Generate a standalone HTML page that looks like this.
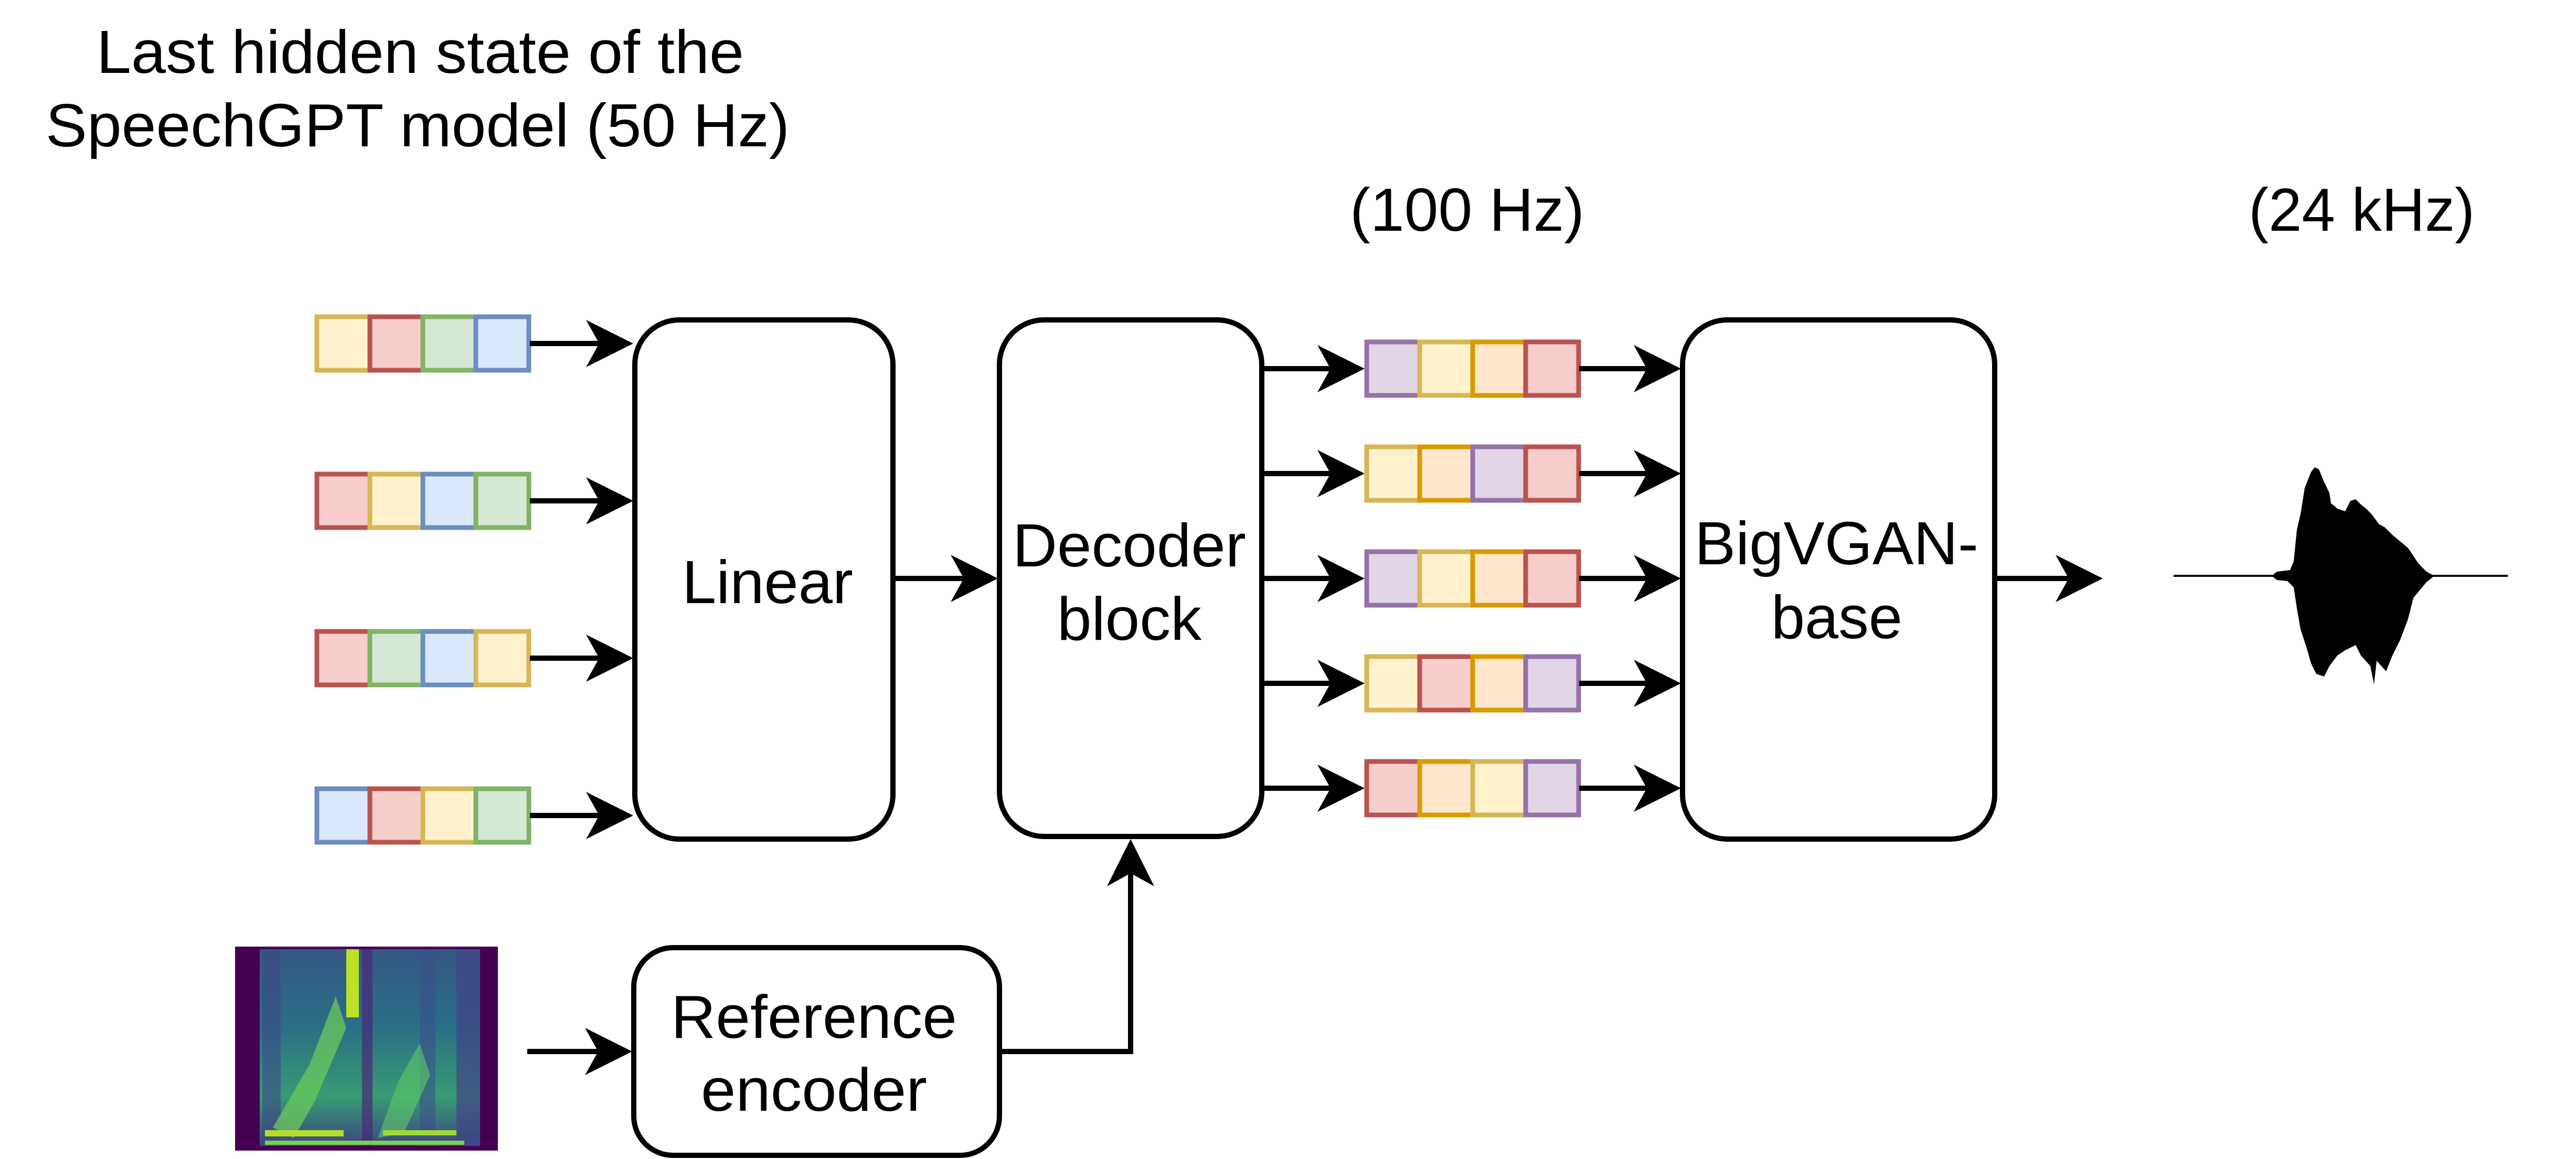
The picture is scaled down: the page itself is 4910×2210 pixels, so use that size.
<!DOCTYPE html>
<html><head><meta charset="utf-8"><style>
html,body{margin:0;padding:0;background:#fff;}
svg{display:block;}
text{font-family:"Liberation Sans",Arial,sans-serif;fill:#000;}
</style></head><body>
<svg width="4910" height="2210" viewBox="0 0 4910 2210" xmlns="http://www.w3.org/2000/svg">
<defs>
<linearGradient id="sg" x1="0" y1="0" x2="0" y2="1">
<stop offset="0" stop-color="#31688e"/><stop offset="0.4" stop-color="#26828e"/><stop offset="0.75" stop-color="#35b779"/><stop offset="1" stop-color="#3b528b"/>
</linearGradient>
</defs>
<rect width="4910" height="2210" fill="#fff"/>

<!-- Titles -->
<text x="184" y="139" font-size="116" textLength="1234" lengthAdjust="spacingAndGlyphs">Last hidden state of the</text>
<text x="87" y="279" font-size="116" textLength="1418" lengthAdjust="spacingAndGlyphs">SpeechGPT model (50 Hz)</text>
<text x="2573" y="440" font-size="116" textLength="447" lengthAdjust="spacingAndGlyphs">(100 Hz)</text>
<text x="4286" y="440" font-size="116" textLength="431" lengthAdjust="spacingAndGlyphs">(24 kHz)</text>

<g stroke-width="9" stroke-linejoin="miter">
<!-- input bars (x 600..1010) -->
<g transform="translate(0,600)">
<rect x="604" y="4" width="101" height="102" fill="#fff2cc" stroke="#d6b656"/>
<rect x="705" y="4" width="101" height="102" fill="#f8cecc" stroke="#b85450"/>
<rect x="806" y="4" width="101" height="102" fill="#d5e8d4" stroke="#82b366"/>
<rect x="907" y="4" width="101" height="102" fill="#dae8fc" stroke="#6c8ebf"/>
</g>
<g transform="translate(0,900)">
<rect x="604" y="4" width="101" height="102" fill="#f8cecc" stroke="#b85450"/>
<rect x="705" y="4" width="101" height="102" fill="#fff2cc" stroke="#d6b656"/>
<rect x="806" y="4" width="101" height="102" fill="#dae8fc" stroke="#6c8ebf"/>
<rect x="907" y="4" width="101" height="102" fill="#d5e8d4" stroke="#82b366"/>
</g>
<g transform="translate(0,1200)">
<rect x="604" y="4" width="101" height="102" fill="#f8cecc" stroke="#b85450"/>
<rect x="705" y="4" width="101" height="102" fill="#d5e8d4" stroke="#82b366"/>
<rect x="806" y="4" width="101" height="102" fill="#dae8fc" stroke="#6c8ebf"/>
<rect x="907" y="4" width="101" height="102" fill="#fff2cc" stroke="#d6b656"/>
</g>
<g transform="translate(0,1500)">
<rect x="604" y="4" width="101" height="102" fill="#dae8fc" stroke="#6c8ebf"/>
<rect x="705" y="4" width="101" height="102" fill="#f8cecc" stroke="#b85450"/>
<rect x="806" y="4" width="101" height="102" fill="#fff2cc" stroke="#d6b656"/>
<rect x="907" y="4" width="101" height="102" fill="#d5e8d4" stroke="#82b366"/>
</g>

<!-- output bars (x 2601..3010) -->
<g transform="translate(0,652)">
<rect x="2605" y="0" width="101" height="102" fill="#e1d5e7" stroke="#9673a6"/>
<rect x="2706" y="0" width="101" height="102" fill="#fff2cc" stroke="#d6b656"/>
<rect x="2807" y="0" width="101" height="102" fill="#ffe6cc" stroke="#d79b00"/>
<rect x="2908" y="0" width="101" height="102" fill="#f8cecc" stroke="#b85450"/>
</g>
<g transform="translate(0,852)">
<rect x="2605" y="0" width="101" height="102" fill="#fff2cc" stroke="#d6b656"/>
<rect x="2706" y="0" width="101" height="102" fill="#ffe6cc" stroke="#d79b00"/>
<rect x="2807" y="0" width="101" height="102" fill="#e1d5e7" stroke="#9673a6"/>
<rect x="2908" y="0" width="101" height="102" fill="#f8cecc" stroke="#b85450"/>
</g>
<g transform="translate(0,1052)">
<rect x="2605" y="0" width="101" height="102" fill="#e1d5e7" stroke="#9673a6"/>
<rect x="2706" y="0" width="101" height="102" fill="#fff2cc" stroke="#d6b656"/>
<rect x="2807" y="0" width="101" height="102" fill="#ffe6cc" stroke="#d79b00"/>
<rect x="2908" y="0" width="101" height="102" fill="#f8cecc" stroke="#b85450"/>
</g>
<g transform="translate(0,1252)">
<rect x="2605" y="0" width="101" height="102" fill="#fff2cc" stroke="#d6b656"/>
<rect x="2706" y="0" width="101" height="102" fill="#f8cecc" stroke="#b85450"/>
<rect x="2807" y="0" width="101" height="102" fill="#ffe6cc" stroke="#d79b00"/>
<rect x="2908" y="0" width="101" height="102" fill="#e1d5e7" stroke="#9673a6"/>
</g>
<g transform="translate(0,1452)">
<rect x="2605" y="0" width="101" height="102" fill="#f8cecc" stroke="#b85450"/>
<rect x="2706" y="0" width="101" height="102" fill="#ffe6cc" stroke="#d79b00"/>
<rect x="2807" y="0" width="101" height="102" fill="#fff2cc" stroke="#d6b656"/>
<rect x="2908" y="0" width="101" height="102" fill="#e1d5e7" stroke="#9673a6"/>
</g>
</g>

<!-- Boxes -->
<g fill="#fff" stroke="#000" stroke-width="10">
<rect x="1210" y="610" width="492" height="990" rx="85" ry="85"/>
<rect x="1905" y="610" width="500" height="985" rx="85" ry="85"/>
<rect x="3207" y="610" width="595" height="990" rx="85" ry="85"/>
<rect x="1208" y="1807" width="697" height="396" rx="75" ry="75"/>
</g>

<!-- Box labels -->
<text x="1300" y="1150" font-size="116" textLength="326" lengthAdjust="spacingAndGlyphs">Linear</text>
<text x="1930" y="1080" font-size="116" textLength="445" lengthAdjust="spacingAndGlyphs">Decoder</text>
<text x="2015" y="1220" font-size="116" textLength="275" lengthAdjust="spacingAndGlyphs">block</text>
<text x="3230" y="1076" font-size="116" textLength="541" lengthAdjust="spacingAndGlyphs">BigVGAN-</text>
<text x="3376" y="1217" font-size="116" textLength="250" lengthAdjust="spacingAndGlyphs">base</text>
<text x="1279" y="1979" font-size="116" textLength="545" lengthAdjust="spacingAndGlyphs">Reference</text>
<text x="1336" y="2118" font-size="116" textLength="431" lengthAdjust="spacingAndGlyphs">encoder</text>

<!-- Connector lines -->
<g stroke="#000" stroke-width="10" fill="none">
<line x1="1010" y1="655" x2="1150" y2="655"/>
<line x1="1010" y1="955" x2="1150" y2="955"/>
<line x1="1010" y1="1255" x2="1150" y2="1255"/>
<line x1="1010" y1="1555" x2="1150" y2="1555"/>
<line x1="1705" y1="1103" x2="1845" y2="1103"/>
<line x1="2405" y1="703" x2="2545" y2="703"/>
<line x1="2405" y1="903" x2="2545" y2="903"/>
<line x1="2405" y1="1103" x2="2545" y2="1103"/>
<line x1="2405" y1="1303" x2="2545" y2="1303"/>
<line x1="2405" y1="1503" x2="2545" y2="1503"/>
<line x1="3010" y1="703" x2="3145" y2="703"/>
<line x1="3010" y1="903" x2="3145" y2="903"/>
<line x1="3010" y1="1103" x2="3145" y2="1103"/>
<line x1="3010" y1="1303" x2="3145" y2="1303"/>
<line x1="3010" y1="1503" x2="3145" y2="1503"/>
<line x1="3805" y1="1103" x2="3950" y2="1103"/>
<line x1="1005" y1="2005" x2="1150" y2="2005"/>
<polyline points="1905,2005 2155,2005 2155,1660"/>
</g>

<!-- Arrowheads -->
<g fill="#000">
<path d="M0,0 L-90,-45 L-65,0 L-90,45 Z" transform="translate(1207,655)"/>
<path d="M0,0 L-90,-45 L-65,0 L-90,45 Z" transform="translate(1207,955)"/>
<path d="M0,0 L-90,-45 L-65,0 L-90,45 Z" transform="translate(1207,1255)"/>
<path d="M0,0 L-90,-45 L-65,0 L-90,45 Z" transform="translate(1207,1555)"/>
<path d="M0,0 L-90,-45 L-65,0 L-90,45 Z" transform="translate(1902,1103)"/>
<path d="M0,0 L-90,-45 L-65,0 L-90,45 Z" transform="translate(2601,703)"/>
<path d="M0,0 L-90,-45 L-65,0 L-90,45 Z" transform="translate(2601,903)"/>
<path d="M0,0 L-90,-45 L-65,0 L-90,45 Z" transform="translate(2601,1103)"/>
<path d="M0,0 L-90,-45 L-65,0 L-90,45 Z" transform="translate(2601,1303)"/>
<path d="M0,0 L-90,-45 L-65,0 L-90,45 Z" transform="translate(2601,1503)"/>
<path d="M0,0 L-90,-45 L-65,0 L-90,45 Z" transform="translate(3204,703)"/>
<path d="M0,0 L-90,-45 L-65,0 L-90,45 Z" transform="translate(3204,903)"/>
<path d="M0,0 L-90,-45 L-65,0 L-90,45 Z" transform="translate(3204,1103)"/>
<path d="M0,0 L-90,-45 L-65,0 L-90,45 Z" transform="translate(3204,1303)"/>
<path d="M0,0 L-90,-45 L-65,0 L-90,45 Z" transform="translate(3204,1503)"/>
<path d="M0,0 L-90,-45 L-65,0 L-90,45 Z" transform="translate(4008,1103)"/>
<path d="M0,0 L-90,-45 L-65,0 L-90,45 Z" transform="translate(1205,2005)"/>
<path d="M0,0 L-90,-45 L-65,0 L-90,45 Z" transform="translate(2155,1600) rotate(-90)"/>
</g>

<!-- Spectrogram -->
<g>
<rect x="448" y="1805" width="501" height="389" fill="#440154"/>
<rect x="495" y="1810" width="420" height="375" fill="url(#sg)" opacity="0.85"/>
<rect x="500" y="1810" width="35" height="375" fill="#3e4a89" opacity="0.6"/>
<rect x="660" y="1810" width="24" height="130" fill="#bddf26"/>
<rect x="690" y="1810" width="20" height="375" fill="#482878" opacity="0.7"/>
<rect x="800" y="1810" width="30" height="375" fill="#3b528b" opacity="0.6"/>
<rect x="870" y="1810" width="45" height="375" fill="#414487" opacity="0.7"/>
<path d="M520,2150 L590,2030 L640,1900 L660,1960 L600,2100 L560,2170 Z" fill="#6ece58" opacity="0.7"/>
<path d="M720,2170 L760,2060 L800,1990 L820,2050 L770,2160 Z" fill="#5ec962" opacity="0.6"/>
<rect x="505" y="2155" width="150" height="12" fill="#b5de2b"/>
<rect x="730" y="2155" width="140" height="10" fill="#a0da39"/>
<rect x="505" y="2175" width="380" height="8" fill="#7ad151"/>
</g>

<!-- Waveform -->
<line x1="4143" y1="1098" x2="4780" y2="1098" stroke="#000" stroke-width="4"/>
<path fill="#000" d="M4330,1098 L4340,1090 L4365,1087 L4372,1070 L4378,1010 L4385,980 L4393,930 L4405,900 L4412,891 L4420,895 L4428,915 L4440,940 L4443,960 L4450,965 L4455,970 L4470,975 L4480,955 L4490,952 L4500,962 L4510,970 L4520,980 L4535,1000 L4545,1005 L4560,1020 L4590,1045 L4610,1075 L4625,1090 L4640,1098 L4625,1110 L4600,1140 L4590,1180 L4575,1220 L4560,1250 L4548,1280 L4530,1260 L4525,1305 L4518,1270 L4500,1250 L4490,1230 L4470,1240 L4455,1250 L4440,1270 L4430,1290 L4415,1285 L4405,1265 L4398,1240 L4385,1200 L4378,1160 L4372,1120 L4360,1108 L4340,1106 Z"/>
</svg>
</body></html>
